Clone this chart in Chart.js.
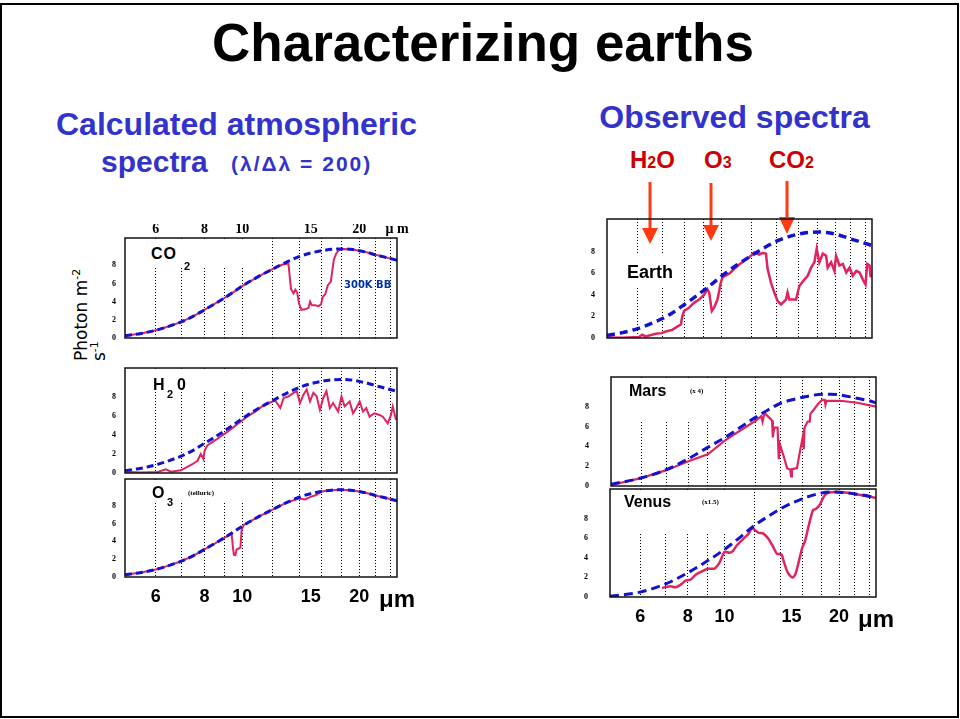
<!DOCTYPE html>
<html>
<head>
<meta charset="utf-8">
<title>Characterizing earths</title>
<script src="https://cdn.jsdelivr.net/npm/chart.js@4.4.1/dist/chart.umd.min.js"></script>
<style>
  body { margin: 0; background: #fff; font-family: 'Liberation Sans', Arial, sans-serif; }
  #slide { position: relative; width: 960px; height: 719px; overflow: hidden; }
  #frame { position: absolute; left: 0; top: 3px; width: 955px; height: 711px; border: 2px solid #000; }
  .t { position: absolute; line-height: 1; white-space: nowrap; font-weight: bold; }
  .blue { color: #3333cc; }
  .red { color: #cc0000; }
  .serif { font-family: 'Liberation Serif', 'Times New Roman', serif; }
  canvas, .mask { position: absolute; }
  .mask { background: #fff; }
  #ylab { position: absolute; left: 72px; top: 361px; width: 130px; transform: rotate(-90deg); transform-origin: 0 0;
          font-family: 'DejaVu Sans', sans-serif; font-size: 17px; line-height: 18px; white-space: nowrap; }
  #ylab sup { font-size: 11px; line-height: 0; }
</style>
</head>
<body>
<div id="slide">
  <div id="frame"></div>

  <div class="t" style="left:0; width:966px; top:16px; text-align:center; font-size:53px;">Characterizing earths</div>

  <div class="t blue" style="left:36px; width:401px; top:108px; text-align:center; font-size:32px;">Calculated atmospheric</div>
  <div class="t blue" style="left:101px; top:147px; font-size:30px;">spectra</div>
  <div class="t blue" style="left:231px; top:153px; font-size:21px; letter-spacing:2px;">(λ/Δλ = 200)</div>
  <div class="t blue" style="left:534px; width:401px; top:101px; text-align:center; font-size:32px;">Observed spectra</div>

  <div class="t red" style="left:630px; top:148px; font-size:24px;">H<span style="font-size:16px">2</span>O</div>
  <div class="t red" style="left:704px; top:148px; font-size:24px;">O<span style="font-size:16px">3</span></div>
  <div class="t red" style="left:769px; top:148px; font-size:24px;">CO<span style="font-size:16px">2</span></div>

  <svg style="position:absolute; left:0; top:0;" width="960" height="260">
    <g fill="#ff3a10" stroke="#ff3a10">
      <line x1="650" y1="182" x2="650" y2="230" stroke-width="3"/>
      <polygon points="642,228 658,228 650,244" stroke="none"/>
      <line x1="711" y1="183" x2="711" y2="227" stroke-width="3"/>
      <polygon points="703,225 719,225 711,241" stroke="none"/>
      <line x1="787" y1="181" x2="787" y2="219" stroke-width="3"/>
      <polygon points="779,217 795,217 787,234" stroke="none"/>
    </g>
  </svg>

  <div id="ylab">Photon m<sup>-2</sup><br>s<sup>-1</sup></div>

  <canvas id="co2" width="342" height="164" style="left:85px; top:204px;"></canvas>
  <canvas id="h2o" width="342" height="165" style="left:85px; top:338px;"></canvas>
  <canvas id="o3" width="342" height="164" style="left:85px; top:449px;"></canvas>
  <canvas id="earth" width="335" height="179" style="left:567px; top:189px;"></canvas>
  <canvas id="mars" width="335" height="169" style="left:571px; top:347px;"></canvas>
  <canvas id="venus" width="336" height="174" style="left:570px; top:459px;"></canvas>

  <!-- white boxes behind the panel captions -->
  <div class="mask" style="left:127px; top:240px; width:122px; height:27px;"></div>
  <div class="mask" style="left:127px; top:370px; width:122px; height:22px;"></div>
  <div class="mask" style="left:127px; top:481px; width:122px; height:21px;"></div>
  <div class="mask" style="left:624px; top:254px; width:54px; height:34px;"></div>
  <div class="mask" style="left:613px; top:379px; width:104px; height:41px;"></div>
  <div class="mask" style="left:612px; top:491px; width:117px; height:41px;"></div>

  <div class="t" style="left:151px; top:246px; font-size:16px; letter-spacing:1px;">CO</div>
  <div class="t" style="left:184px; top:261px; font-size:11px;">2</div>
  <div class="t" style="left:153px; top:377px; font-size:16px;">H</div>
  <div class="t" style="left:167px; top:389px; font-size:11px;">2</div>
  <div class="t" style="left:177px; top:377px; font-size:16px;">0</div>
  <div class="t" style="left:152px; top:485px; font-size:16px;">O</div>
  <div class="t" style="left:167px; top:497px; font-size:11px;">3</div>
  <div class="t serif" style="left:188px; top:490px; font-size:7px;">(telluric)</div>
  <div class="t" style="left:344px; top:280px; font-size:10px; color:#0033a0; font-family:'DejaVu Sans', sans-serif;">300K BB</div>

  <div class="t" style="left:627px; top:263px; font-size:18px;">Earth</div>
  <div class="t" style="left:629px; top:383px; font-size:16px;">Mars</div>
  <div class="t serif" style="left:690px; top:388px; font-size:7px;">(x 4)</div>
  <div class="t" style="left:624px; top:494px; font-size:16px;">Venus</div>
  <div class="t serif" style="left:702px; top:499px; font-size:7px;">(x1.5)</div>
</div>

<script>
// wavelength axis (um): dotted guides, tick spots and their labels
var gridMarks = [6, 7, 8, 9, 10, 12, 14, 16, 18, 20, 22, 24];
var tickSpots = [6, 7, 8, 9, 10, 12, 14, 15, 16, 18, 20, 22, 24, 25];
var bottomLabels = {6: '6', 8: '8', 10: '10', 15: '15', 20: '20', 25: 'μm'};
var topLabels = {6: '6', 8: '8', 10: '10', 15: '15', 20: '20', 25: 'μ m'};
var fluxTicks = [0, 2, 4, 6, 8];

// 300K blackbody, shared by the model panels and Earth
var bbWave = [5, 5.5, 6, 6.5, 7, 7.5, 8, 8.5, 9, 9.5, 10, 11, 12, 13, 14, 15, 16, 17, 18, 19, 20, 21, 22, 23, 24, 25];
var bbFlux = [0.25, 0.5, 0.85, 1.3, 1.8, 2.4, 3.1, 3.75, 4.4, 5.05, 5.7, 6.75, 7.6, 8.35, 8.95, 9.35, 9.6, 9.75, 9.8, 9.75, 9.6, 9.4, 9.15, 8.95, 8.75, 8.55];

// calculated spectra
var co2Wave = [5, 5.5, 6, 6.5, 7, 7.5, 8, 8.5, 9, 9.5, 10, 11, 12, 12.65, 13.15, 13.35, 13.55, 13.7, 13.85, 14.0, 14.2, 14.5, 14.8, 14.95, 15.1, 15.4, 15.7, 15.95, 16.1, 16.35, 16.6, 16.9, 17.2, 17.45, 17.7, 18, 19, 20, 21, 22, 23, 24, 25];
var co2Flux = [0.25, 0.5, 0.85, 1.3, 1.8, 2.4, 3.1, 3.75, 4.4, 5.05, 5.7, 6.75, 7.6, 8.05, 8.2, 5.4, 4.9, 5.3, 5.0, 3.8, 3.1, 3.15, 3.3, 4.0, 3.6, 3.6, 3.5, 3.7, 4.5, 4.8, 5.8, 6.2, 8.6, 9.3, 9.65, 9.8, 9.75, 9.6, 9.4, 9.15, 8.95, 8.75, 8.55];

var h2oWave = [5, 5.5, 6.07, 6.37, 6.56, 6.96, 7.17, 7.45, 7.68, 7.83, 7.95, 8.01, 8.14, 8.38, 8.64, 8.89, 9.16, 9.52, 9.9, 10.3, 10.8, 11.25, 11.7, 12.16, 12.53, 12.78, 13.16, 13.55, 13.82, 14.08, 14.37, 14.65, 14.94, 15.24, 15.54, 15.84, 16.16, 16.47, 16.8, 17.13, 17.65, 18.0, 18.34, 18.89, 19.27, 19.65, 20.04, 20.44, 20.84, 21.25, 21.88, 22.53, 22.99, 23.67, 24.13, 24.38, 24.86];
var h2oFlux = [0.14, 0.05, 0.1, 0.39, 0.14, 0.28, 0.57, 0.92, 1.28, 1.99, 1.46, 2.35, 2.88, 3.23, 3.59, 3.95, 4.3, 4.83, 5.37, 5.9, 6.43, 6.97, 7.33, 7.6, 6.8, 7.86, 8.03, 8.39, 8.57, 7.33, 8.21, 8.75, 7.5, 8.39, 8.03, 6.61, 7.86, 8.57, 6.8, 7.33, 6.43, 8.03, 6.97, 7.5, 6.26, 6.8, 7.5, 6.43, 6.8, 5.9, 6.26, 6.08, 5.9, 5.19, 6.08, 6.97, 5.55];

var o3Wave = [5, 5.5, 6, 6.5, 7, 7.5, 8, 8.5, 9, 9.4, 9.45, 9.52, 9.6, 9.68, 9.8, 9.9, 9.97, 10.1, 11, 12, 13, 14, 14.5, 15, 15.5, 16, 17, 18, 19, 20, 21, 22, 23, 24, 25];
var o3Flux = [0.25, 0.5, 0.85, 1.3, 1.8, 2.4, 3.1, 3.75, 4.4, 4.85, 3.7, 2.5, 2.45, 3.1, 3.2, 3.3, 5.3, 5.85, 6.75, 7.6, 8.35, 8.8, 8.7, 9.0, 9.2, 9.6, 9.75, 9.8, 9.75, 9.6, 9.4, 9.15, 8.95, 8.75, 8.55];

// observed spectra
var earthWave = [5, 5.5, 6.07, 6.19, 6.32, 6.72, 6.97, 7.14, 7.43, 7.66, 7.83, 7.9, 7.98, 8.23, 8.48, 8.75, 9.02, 9.2, 9.3, 9.45, 9.58, 9.78, 9.98, 10.08, 10.5, 11.16, 11.86, 12.23, 12.6, 12.84, 13.13, 13.26, 13.54, 13.81, 14.1, 14.39, 14.83, 14.97, 15.13, 15.76, 16.08, 16.58, 16.92, 17.27, 17.62, 17.87, 18.16, 18.54, 18.92, 19.1, 19.5, 19.9, 20.1, 20.52, 20.94, 21.38, 21.81, 22.25, 22.72, 23.18, 23.65, 24.04, 24.28, 24.63, 24.8];
var earthFlux = [0.05, 0.02, 0.1, 0.3, 0.15, 0.4, 0.45, 0.6, 0.75, 1.05, 1.25, 2.0, 2.5, 2.8, 3.25, 3.55, 4.0, 4.5, 4.2, 2.5, 2.8, 3.55, 5.1, 5.6, 5.95, 6.8, 7.45, 7.9, 7.7, 7.85, 7.8, 6.4, 5.1, 4.2, 3.4, 3.1, 3.55, 4.2, 3.55, 3.55, 4.8, 5.4, 5.75, 6.5, 7.0, 8.25, 7.0, 7.8, 7.6, 6.5, 7.0, 6.2, 7.6, 6.7, 6.85, 6.05, 6.5, 5.75, 6.2, 6.05, 5.4, 4.95, 6.85, 6.7, 5.6];

var marsBbWave = [5, 6, 7, 8, 9, 10, 11, 12, 13, 14, 15, 16, 17, 18, 19, 20, 22, 24, 25];
var marsBbFlux = [0.17, 0.8, 1.65, 2.75, 3.9, 4.9, 5.95, 6.9, 7.7, 8.35, 8.7, 8.95, 9.15, 9.25, 9.25, 9.2, 8.9, 8.6, 8.4];
var marsWave = [5, 6, 7, 8, 9, 10, 10.96, 12.05, 12.45, 12.55, 12.65, 12.76, 13.15, 13.3, 13.36, 13.47, 13.75, 13.85, 13.95, 14.27, 14.57, 14.86, 14.92, 15.0, 15.47, 15.79, 16.05, 16.12, 16.2, 16.51, 16.72, 16.79, 17.13, 17.55, 18.03, 18.3, 18.39, 18.5, 20.15, 22.3, 25];
var marsFlux = [0.1, 0.8, 1.6, 2.5, 3.2, 4.6, 5.6, 6.6, 7.05, 6.5, 7.1, 7.3, 6.8, 6.6, 4.9, 5.9, 5.9, 2.7, 4.2, 3.0, 1.8, 1.65, 0.96, 1.7, 1.8, 3.7, 5.1, 3.7, 5.9, 6.5, 6.5, 7.3, 7.7, 8.25, 8.7, 8.7, 8.2, 8.6, 8.6, 8.4, 8.0];

var venusBbWave = [5, 6, 7, 8, 9, 10, 11, 12, 13, 14, 15, 16, 17, 18, 19, 20, 22, 24, 25];
var venusBbFlux = [0.07, 0.5, 1.33, 2.46, 3.66, 4.85, 6.1, 7.3, 8.2, 8.96, 9.55, 10.0, 10.35, 10.6, 10.7, 10.67, 10.5, 10.26, 10.1];
var venusWave = [6.85, 7.04, 7.21, 7.44, 7.67, 7.91, 8.15, 8.41, 8.67, 9.03, 9.41, 9.7, 10.0, 10.31, 10.53, 10.74, 11.19, 11.54, 11.83, 12.02, 12.27, 12.65, 13.05, 13.46, 13.73, 14.1, 14.3, 14.6, 14.9, 15.12, 15.36, 15.68, 16.0, 16.27, 16.67, 17.08, 17.36, 17.8, 18.1, 18.46, 19.04, 20.45, 22, 25];
var venusFlux = [0.92, 1.03, 1.1, 1.0, 1.26, 1.68, 1.78, 2.3, 2.56, 2.87, 2.9, 3.5, 4.6, 4.5, 4.7, 5.2, 5.9, 6.4, 7.0, 6.8, 6.56, 6.46, 5.9, 5.0, 4.4, 4.34, 3.66, 2.63, 2.12, 2.0, 2.36, 3.66, 5.0, 5.7, 7.4, 8.85, 8.96, 9.4, 10.0, 10.5, 10.67, 10.67, 10.5, 10.1];

var RED = '#e0245e';
var BLUE = '#1212d0';

function pts(xs, ys) {
    var out = [];
    for (var i = 0; i < xs.length; i++) {
        out.push({x: xs[i], y: ys[i]});
    }
    return out;
}

function spotTicks(scale) {
    scale.ticks = tickSpots.map(function (v) { return {value: v}; });
}

// frame round the plot area
var boxPlugin = {
    id: 'box',
    afterDraw: function (chart) {
        var a = chart.chartArea;
        var c = chart.ctx;
        c.save();
        c.strokeStyle = '#111';
        c.lineWidth = 1.5;
        c.strokeRect(a.left, a.top, a.right - a.left, a.bottom - a.top);
        c.restore();
    }
};

function panel(id, model, spectrum, opt) {
    var scales = {
        x: {
            type: 'logarithmic',
            min: 5,
            max: 25,
            afterBuildTicks: spotTicks,
            afterFit: function (s) { s.height = opt.bottom ? 34 : 0; },
            grid: {
                drawTicks: false,
                color: function (c) {
                    return c.tick && gridMarks.indexOf(c.tick.value) >= 0 ? '#000' : 'rgba(0,0,0,0)';
                }
            },
            border: { display: false, dash: [1, 2] },
            ticks: {
                display: !!opt.bottom,
                autoSkip: false,
                maxRotation: 0,
                padding: 9,
                color: '#000',
                font: function (c) {
                    var unit = c.tick && c.tick.value === 25;
                    return {family: 'Liberation Sans', weight: 'bold', size: unit ? 24 : 18};
                },
                callback: function (v) { return bottomLabels[v] || ''; }
            }
        },
        y: {
            min: 0,
            max: 11,
            afterBuildTicks: function (s) {
                s.ticks = [0, 2, 4, 6, 8, 10].map(function (v) { return {value: v}; });
            },
            afterFit: function (s) { s.width = 40; },
            grid: { display: false, drawTicks: false },
            border: { display: false },
            ticks: {
                autoSkip: false,
                padding: opt.yPad,
                color: '#000',
                font: {family: 'Liberation Serif', weight: 'bold', size: 8},
                callback: function (v) { return fluxTicks.indexOf(v) >= 0 ? String(v) : ''; }
            }
        }
    };
    if (opt.top) {
        scales.x2 = {
            type: 'logarithmic',
            position: 'top',
            min: 5,
            max: 25,
            afterBuildTicks: spotTicks,
            afterFit: function (s) { s.height = 14; },
            grid: { display: false, drawTicks: false },
            border: { display: false },
            ticks: {
                autoSkip: false,
                maxRotation: 0,
                padding: 0,
                color: '#000',
                font: {family: 'Liberation Serif', weight: 'bold', size: 14},
                callback: function (v) { return topLabels[v] || ''; }
            }
        };
    }

    return new Chart(document.getElementById(id), {
        type: 'line',
        data: {
            datasets: [
                {
                    label: '300K BB',
                    data: model,
                    borderColor: BLUE,
                    borderWidth: opt.bbWidth || 3,
                    borderDash: opt.dash || [7, 4],
                    pointRadius: 0,
                    cubicInterpolationMode: 'monotone'
                },
                {
                    label: 'spectrum',
                    data: spectrum,
                    borderColor: RED,
                    borderWidth: opt.width || 2,
                    pointRadius: 0,
                    tension: opt.tension || 0
                }
            ]
        },
        options: {
            responsive: false,
            animation: false,
            devicePixelRatio: 1,
            events: [],
            // generous room above and below so the flux tick labels never push the plot area
            layout: { padding: {top: opt.top ? 20 : 30, right: 30, bottom: opt.bottom ? 2 : 30, left: 0} },
            plugins: { legend: {display: false}, tooltip: {enabled: false} },
            scales: scales
        },
        plugins: [boxPlugin]
    });
}

var bb = pts(bbWave, bbFlux);

panel('co2', bb, pts(co2Wave, co2Flux), {top: true, yPad: 9});
panel('h2o', bb, pts(h2oWave, h2oFlux), {yPad: 9});
panel('o3', bb, pts(o3Wave, o3Flux), {bottom: true, yPad: 9});

panel('earth', bb, pts(earthWave, earthFlux), {yPad: 12, bbWidth: 3.5, dash: [8, 5], width: 2.5});
panel('mars', pts(marsBbWave, marsBbFlux), pts(marsWave, marsFlux), {yPad: 22, dash: [9, 5], width: 2.2});
panel('venus', pts(venusBbWave, venusBbFlux), pts(venusWave, venusFlux), {bottom: true, yPad: 22, dash: [9, 5], width: 2.5, tension: 0.25});
</script>
</body>
</html>
